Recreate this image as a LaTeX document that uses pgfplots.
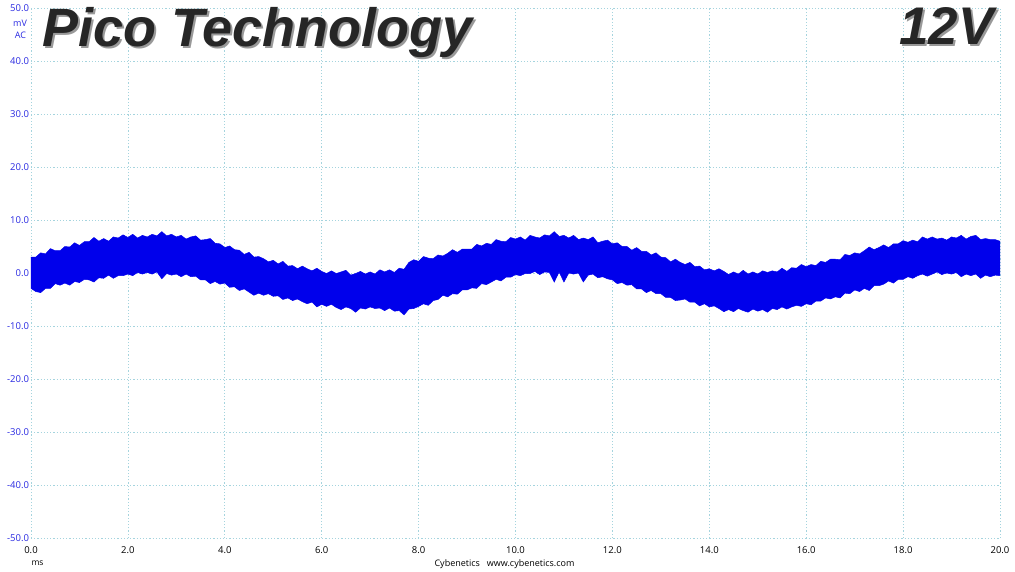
\documentclass[border=0pt]{standalone}
\usepackage{pgfplots}
\pgfplotsset{compat=1.18}
\usepackage{pgfplotstable}
\usepgfplotslibrary{fillbetween}
\usepackage{fontspec}
\setmainfont{Open Sans}
\newfontfamily\arialfont{Liberation Sans}
\definecolor{trace}{RGB}{0,0,235}
\definecolor{gridc}{RGB}{165,212,222}
\definecolor{lblue}{RGB}{40,40,225}

\pgfplotstableread{
t u l
0.0 3.0 -2.9
0.1 3.0 -3.5
0.2 3.8 -3.7
0.3 3.6 -2.9
0.4 4.6 -2.9
0.5 4.2 -2.0
0.6 4.2 -2.3
0.7 5.0 -1.9
0.8 4.9 -2.3
0.9 5.7 -1.6
1.0 5.2 -1.8
1.1 5.9 -1.2
1.2 5.9 -1.3
1.3 6.7 -1.7
1.4 6.0 -0.9
1.5 6.5 -1.0
1.6 6.0 -0.4
1.7 6.8 -1.0
1.8 6.6 -0.5
1.9 7.2 -0.5
2.0 6.7 -0.2
2.1 7.3 -0.5
2.2 6.6 0.1
2.3 7.1 -0.2
2.4 6.8 0.1
2.5 7.3 -0.2
2.6 7.0 0.2
2.7 7.8 -1.1
2.8 7.0 -0.1
2.9 7.3 -0.4
3.0 6.8 -0.2
3.1 7.1 -0.7
3.2 6.4 -0.2
3.3 6.8 -0.7
3.4 7.0 -0.6
3.5 6.2 -1.3
3.6 6.3 -1.3
3.7 6.5 -2.0
3.8 5.6 -1.6
3.9 5.5 -2.1
4.0 4.8 -1.9
4.1 5.1 -2.7
4.2 4.4 -2.6
4.3 4.3 -3.3
4.4 3.5 -3.0
4.5 3.9 -3.6
4.6 3.0 -4.2
4.7 3.1 -3.8
4.8 2.7 -4.2
4.9 2.1 -3.9
5.0 2.4 -4.4
5.1 1.7 -4.3
5.2 2.2 -5.0
5.3 1.3 -4.7
5.4 1.4 -5.2
5.5 0.8 -4.9
5.6 1.3 -5.4
5.7 0.8 -5.8
5.8 0.4 -5.5
5.9 0.9 -6.4
6.0 0.3 -5.9
6.1 -0.1 -6.3
6.2 0.4 -5.9
6.3 -0.1 -6.5
6.4 0.2 -6.9
6.5 0.5 -6.4
6.6 -0.4 -6.7
6.7 -0.1 -7.4
6.8 0.3 -6.6
6.9 -0.2 -6.8
7.0 0.2 -6.4
7.1 -0.2 -6.7
7.2 0.6 -6.6
7.3 0.2 -7.1
7.4 0.6 -6.6
7.5 0.1 -7.2
7.6 0.9 -7.1
7.7 0.7 -7.9
7.8 2.0 -6.8
7.9 2.5 -6.7
8.0 2.2 -6.3
8.1 3.1 -5.8
8.2 2.8 -6.1
8.3 2.7 -5.2
8.4 3.4 -5.0
8.5 3.2 -4.2
8.6 3.7 -4.5
8.7 4.4 -3.9
8.8 3.9 -4.0
8.9 4.5 -3.2
9.0 4.5 -3.2
9.1 4.5 -2.8
9.2 5.4 -2.9
9.3 5.1 -2.0
9.4 5.6 -2.2
9.5 5.4 -1.7
9.6 6.3 -1.2
9.7 6.0 -1.5
9.8 5.9 -0.8
9.9 6.7 -0.8
10.0 6.4 -0.3
10.1 6.8 -0.5
10.2 6.2 -0.1
10.3 7.1 -0.1
10.4 6.8 0.3
10.5 6.6 -0.3
10.6 7.2 0.2
10.7 7.0 0.1
10.8 7.8 -1.7
10.9 6.9 0.2
11.0 7.1 -1.7
11.1 6.6 0.0
11.2 7.1 -0.2
11.3 6.3 0.0
11.4 6.6 -1.7
11.5 6.3 -0.4
11.6 6.8 -0.2
11.7 5.7 -0.9
11.8 6.0 -0.7
11.9 6.2 -1.1
12.0 5.5 -1.3
12.1 5.7 -2.0
12.2 5.0 -1.8
12.3 5.0 -2.3
12.4 4.3 -2.2
12.5 4.8 -3.0
12.6 4.1 -3.0
12.7 4.1 -3.7
12.8 3.4 -3.3
12.9 3.8 -3.9
13.0 3.0 -3.9
13.1 2.9 -4.6
13.2 2.1 -4.6
13.3 2.6 -5.2
13.4 2.0 -5.1
13.5 1.6 -4.9
13.6 2.0 -5.5
13.7 1.2 -5.5
13.8 1.3 -6.2
13.9 0.6 -5.8
14.0 0.8 -6.4
14.1 0.4 -6.2
14.2 0.8 -6.7
14.3 0.3 -7.3
14.4 -0.3 -6.9
14.5 0.2 -7.3
14.6 -0.2 -6.7
14.7 0.5 -7.1
14.8 -0.2 -7.4
14.9 0.2 -6.8
15.0 -0.2 -7.2
15.1 0.4 -6.9
15.2 0.1 -7.4
15.3 0.4 -6.7
15.4 0.2 -6.9
15.5 0.9 -6.4
15.6 0.3 -6.8
15.7 1.0 -6.4
15.8 0.9 -6.1
15.9 1.6 -6.3
16.0 1.2 -5.8
16.1 1.6 -6.0
16.2 1.4 -5.3
16.3 2.2 -5.3
16.4 2.0 -4.7
16.5 2.6 -4.9
16.6 2.6 -4.5
16.7 2.5 -4.7
16.8 3.5 -3.8
16.9 3.3 -3.9
17.0 3.8 -3.2
17.1 3.6 -3.5
17.2 4.2 -2.9
17.3 4.9 -3.3
17.4 4.4 -2.4
17.5 4.8 -2.4
17.6 5.3 -2.1
17.7 4.8 -1.5
17.8 5.5 -1.9
17.9 5.5 -1.2
18.0 6.1 -1.2
18.1 5.8 -0.7
18.2 6.2 -1.0
18.3 5.9 -0.5
18.4 6.8 -0.2
18.5 6.4 -0.6
18.6 6.8 -0.2
18.7 6.4 0.2
18.8 6.6 -0.3
18.9 6.2 0.0
19.0 6.8 -0.2
19.1 6.6 0.1
19.2 7.1 -0.7
19.3 6.4 -0.2
19.4 6.9 -0.5
19.5 7.1 -0.2
19.6 6.3 -1.0
19.7 6.5 -0.4
19.8 6.3 -0.7
19.9 6.3 -0.4
20.0 6.0 -0.5
}\band

\begin{document}
\begin{tikzpicture}
\begin{axis}[
  at={(0pt,0pt)}, anchor=south west,
  scale only axis, width=969pt, height=530pt,
  xmin=0, xmax=20, ymin=-50, ymax=50,
  xtick={0,2,...,20}, ytick={-50,-40,...,50},
  grid=major,
  grid style={gridc, line width=0.7pt, dash pattern=on 1.2pt off 2pt},
  axis line style={draw=none},
  major tick length=0pt,
  /pgf/number format/.cd, fixed, fixed zerofill, precision=1, assume math mode=true,
  /pgfplots/.cd,
  tick label style={font=\fontsize{9.5}{11}\selectfont},
  yticklabel style={text=lblue, xshift=1.5pt},
  xticklabel style={yshift=-5pt},
]
\addplot[name path=U, draw=trace, line width=0.5pt] table[x=t, y=u] {\band};
\addplot[name path=L, draw=trace, line width=0.5pt] table[x=t, y=l] {\band};
\addplot[fill=trace, draw=none] fill between[of=U and L];
\end{axis}
\node[anchor=base west, inner sep=0, font=\arialfont\bfseries\itshape\fontsize{54}{62}\selectfont, text=black!40] at (13pt,489pt) {Pico Technology};
\node[anchor=base west, inner sep=0, font=\arialfont\bfseries\itshape\fontsize{54}{62}\selectfont, text=black!85] at (11pt,491pt) {Pico Technology};
\node[anchor=base east, inner sep=0, font=\arialfont\bfseries\itshape\fontsize{53}{62}\selectfont, text=black!40] at (965pt,491pt) {12V};
\node[anchor=base east, inner sep=0, font=\arialfont\bfseries\itshape\fontsize{53}{62}\selectfont, text=black!85] at (963pt,493pt) {12V};
\node[font=\fontsize{9}{11}\selectfont, text=lblue] at (-11pt,515pt) {mV};
\node[font=\fontsize{9}{11}\selectfont, text=lblue] at (-10.5pt,503pt) {AC};
\node[font=\fontsize{8.5}{10}\selectfont] at (6.5pt,-25pt) {ms};
\node[font=\fontsize{9}{11}\selectfont] at (473.5pt,-26pt) {Cybenetics\ \ \ www.cybenetics.com};
\pgfresetboundingbox
\path[use as bounding box] (-31pt,-33pt) rectangle (984pt,538pt);
\end{tikzpicture}
\end{document}
